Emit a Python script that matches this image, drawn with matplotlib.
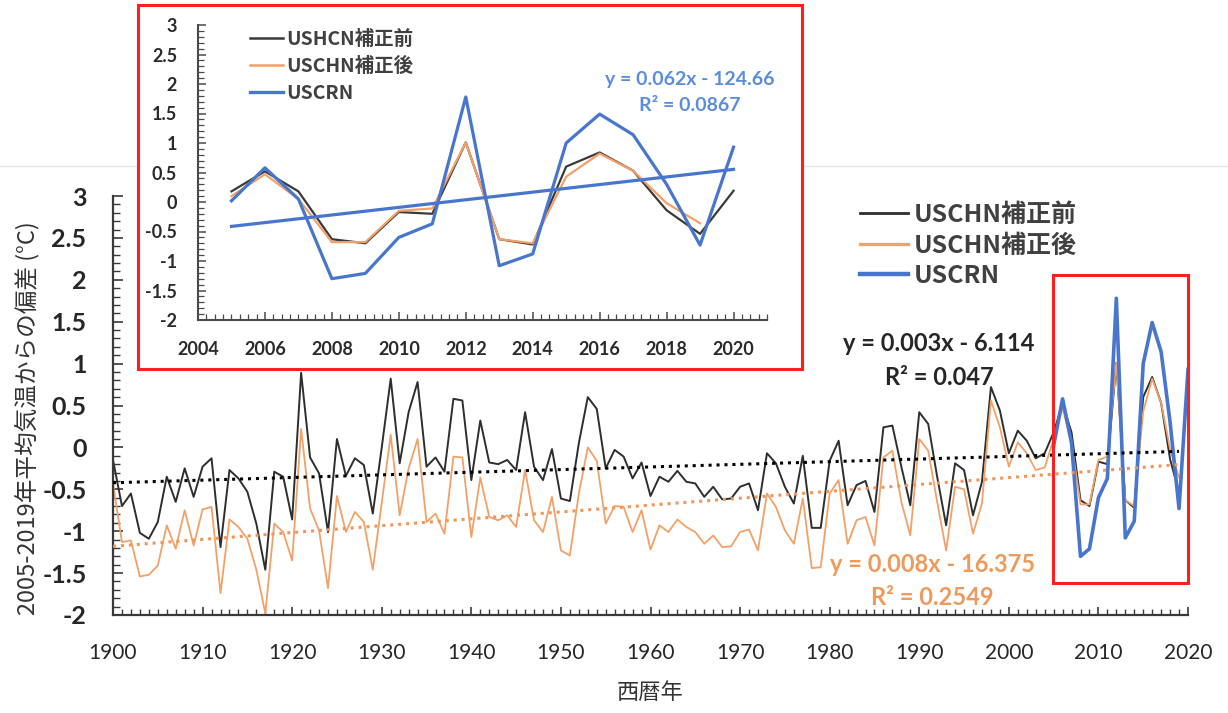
import numpy as np
import matplotlib
matplotlib.use('Agg')
import matplotlib.pyplot as plt
from matplotlib.ticker import MultipleLocator, FuncFormatter
from matplotlib.lines import Line2D

plt.rcParams['font.family'] = ['Lato', 'Noto Sans CJK JP', 'DejaVu Sans']
plt.rcParams['axes.unicode_minus'] = False

# --- data ---
years = np.arange(1900, 2020)
hcn_raw = [-0.15, -0.70, -0.55, -1.02, -1.09, -0.89, -0.35, -0.65, -0.25, -0.59,
           -0.23, -0.13, -1.19, -0.27, -0.37, -0.53, -0.91, -1.46, -0.29, -0.35,
           -0.86, 0.89, -0.12, -0.31, -1.01, 0.10, -0.34, -0.13, -0.21, -0.79,
           0.00, 0.82, -0.19, 0.42, 0.78, -0.23, -0.12, -0.29, 0.58, 0.56,
           -0.39, 0.32, -0.18, -0.20, -0.15, -0.27, 0.42, -0.23, -0.39, -0.02,
           -0.61, -0.64, 0.05, 0.60, 0.46, -0.25, -0.03, -0.11, -0.37, -0.18,
           -0.58, -0.35, -0.41, -0.28, -0.41, -0.43, -0.59, -0.47, -0.62, -0.61,
           -0.47, -0.43, -0.75, -0.07, -0.19, -0.47, -0.67, -0.10, -0.96, -0.96,
           -0.16, 0.08, -0.69, -0.45, -0.40, -0.77, 0.24, 0.26, -0.23, -0.69,
           0.42, 0.28, -0.35, -0.93, -0.19, -0.27, -0.81, -0.41, 0.72, 0.44,
           -0.07, 0.20, 0.08, -0.13, -0.07, 0.18, 0.52, 0.18, -0.63, -0.70,
           -0.17, -0.20, 1.01, -0.63, -0.72, 0.60, 0.84, 0.53, -0.14, -0.54]
hcn_adj = [-0.43, -1.13, -1.11, -1.54, -1.52, -1.41, -0.93, -1.21, -0.75, -1.17,
           -0.74, -0.71, -1.74, -0.86, -0.95, -1.09, -1.46, -1.98, -0.91, -1.01,
           -1.35, 0.22, -0.73, -0.99, -1.68, -0.58, -1.01, -0.77, -0.89, -1.46,
           -0.66, 0.15, -0.81, -0.25, 0.10, -0.89, -0.79, -1.03, -0.11, -0.12,
           -1.07, -0.36, -0.83, -0.87, -0.81, -0.95, -0.27, -0.87, -1.01, -0.59,
           -1.23, -1.29, -0.55, 0.00, -0.16, -0.91, -0.70, -0.71, -1.01, -0.75,
           -1.22, -0.93, -1.01, -0.86, -0.95, -1.01, -1.15, -1.05, -1.19, -1.18,
           -1.01, -0.98, -1.23, -0.55, -0.71, -0.99, -1.15, -0.61, -1.44, -1.43,
           -0.55, -0.39, -1.15, -0.87, -0.83, -1.17, -0.12, -0.04, -0.65, -1.05,
           0.10, -0.04, -0.65, -1.23, -0.47, -0.50, -1.03, -0.67, 0.56, 0.24,
           -0.23, 0.06, -0.07, -0.27, -0.24, 0.10, 0.47, 0.05, -0.68, -0.68,
           -0.15, -0.11, 1.01, -0.63, -0.70, 0.43, 0.82, 0.53, -0.02, -0.36]
crn_years = np.arange(2005, 2021)
crn = [0.02, 0.58, 0.05, -1.30, -1.21, -0.60, -0.37, 1.78,
       -1.08, -0.88, 1.00, 1.49, 1.14, 0.30, -0.73, 0.93]
raw_2020 = 0.19  # 補正前 2020, only in the inset

main_labels = ['USCHN補正前', 'USCHN補正後', 'USCRN']
inset_labels = ['USHCN補正前', 'USCHN補正後', 'USCRN']

c_raw = '#2e2e2e'
c_adj = '#F2A168'
c_crn = '#4876CC'
c_red = '#FF1F1F'
cjk = ['Noto Sans CJK JP', 'DejaVu Sans']

W, H = 1228, 713
fig = plt.figure(figsize=(W / 100, H / 100), dpi=100)
fig.add_artist(Line2D([0, 1], [1 - 166 / H] * 2, transform=fig.transFigure,
                      color='#e6e6e6', lw=1, zorder=0))

fmt = FuncFormatter(lambda v, p: f'{round(v, 1) + 0:g}')

# --- main chart ---
ax = fig.add_axes([113 / W, 1 - 615 / H, (1188 - 113) / W, (615 - 196) / H], zorder=1)
ax.patch.set_alpha(0)
ax.plot(years, hcn_raw, color=c_raw, lw=1.4, zorder=2)
ax.plot(years, hcn_adj, color=c_adj, lw=1.3, zorder=2)
ax.plot(crn_years, crn, color=c_crn, lw=2.6, zorder=3)

yrs = np.asarray(years, dtype=float)
k1, b1 = np.polyfit(yrs, hcn_raw, 1)
k2, b2 = np.polyfit(yrs, hcn_adj, 1)
ax.plot(yrs, k1 * yrs + b1, color='black', lw=2.2, ls=(0, (1, 1.6)), zorder=4)
ax.plot(yrs, k2 * yrs + b2, color='#F0965A', lw=2.2, ls=(0, (1, 1.6)), zorder=4)

# red highlight around the USCRN period
ax.add_patch(plt.Rectangle((crn_years[0] - 0.1, min(crn) - 0.32),
                           crn_years[-1] - crn_years[0] + 0.1,
                           max(crn) - min(crn) + 0.6,
                           fill=False, ec=c_red, lw=2.2, zorder=5, clip_on=False))

ax.set_xlim(1900, 2020)
ax.set_ylim(-2, 3)
ax.set_yticks(np.arange(-2, 3.01, 0.5))
ax.yaxis.set_major_formatter(fmt)
ax.yaxis.set_minor_locator(MultipleLocator(0.1))
ax.set_xticks(np.arange(1900, 2021, 10))
ax.xaxis.set_minor_locator(MultipleLocator(1))
for s in ['top', 'right']:
    ax.spines[s].set_visible(False)
for s in ['left', 'bottom']:
    ax.spines[s].set_color('#3a3a3a')
    ax.spines[s].set_linewidth(1.6)
ax.tick_params(which='both', direction='in', color='#3a3a3a', labelcolor='#262626')
ax.tick_params(axis='y', which='major', length=7, width=1.2, pad=19, labelsize=18)
ax.tick_params(axis='y', which='minor', length=5, width=1.0)
ax.tick_params(axis='x', which='major', length=6, width=1.2, pad=20, labelsize=15)
ax.tick_params(axis='x', which='minor', length=4, width=1.0)
for lab in ax.get_yticklabels():
    lab.set_fontweight('bold')

ax.set_xlabel('西暦年', fontsize=16, family=cjk, color='#333333', labelpad=13)
ax.set_ylabel('2005-2019年平均気温からの偏差 (°C)', fontsize=17, family=cjk,
              color='#333333')
ax.yaxis.set_label_coords(-0.068, 0.47)

ax.text(1992.2, 1.24, 'y = 0.003x - 6.114', ha='center', va='center',
        fontsize=17, weight='bold', color='#262626')
ax.text(1992.2, 0.83, 'R² = 0.047', ha='center', va='center',
        fontsize=17, weight='bold', color='#262626')
ax.text(1991.5, -1.40, 'y = 0.008x - 16.375', ha='center', va='center',
        fontsize=17, weight='bold', color='#EE9A5C')
ax.text(1991.5, -1.79, 'R² = 0.2549', ha='center', va='center',
        fontsize=17, weight='bold', color='#EE9A5C')

h_main = [Line2D([], [], color=c_raw, lw=2.0),
          Line2D([], [], color=c_adj, lw=2.4),
          Line2D([], [], color=c_crn, lw=3.2)]
leg = ax.legend(h_main, main_labels, loc='upper left',
                bbox_to_anchor=(860 / W, 1 - 203 / H), bbox_transform=fig.transFigure,
                frameon=False, prop={'family': cjk, 'size': 18, 'weight': 'bold'},
                handlelength=1.9, handletextpad=0.25, labelspacing=0.26,
                borderpad=0, borderaxespad=0)
for t in leg.get_texts():
    t.set_color('#404040')

# --- inset frame ---
box = fig.add_axes([138 / W, 1 - 369 / H, (802 - 138) / W, (369 - 5) / H], zorder=2)
box.set_xticks([])
box.set_yticks([])
for s in box.spines.values():
    s.set_color(c_red)
    s.set_linewidth(2.2)

# --- inset chart ---
ins = fig.add_axes([198 / W, 1 - 320 / H, (767 - 198) / W, (320 - 25) / H], zorder=3)
ins.patch.set_alpha(0)
ins.plot(crn_years, list(hcn_raw[105:]) + [raw_2020], color='#3a3a3a', lw=1.6)
ins.plot(years[105:], hcn_adj[105:], color=c_adj, lw=1.6)
ins.plot(crn_years, crn, color=c_crn, lw=2.3)
cy = np.asarray(crn_years, dtype=float)
k3, b3 = np.polyfit(cy, crn, 1)
ins.plot(cy, k3 * cy + b3, color=c_crn, lw=2.3)

ins.set_xlim(2004, 2021)
ins.set_ylim(-2, 3)
ins.set_yticks(np.arange(-2, 3.01, 0.5))
ins.yaxis.set_major_formatter(fmt)
ins.yaxis.set_minor_locator(MultipleLocator(0.1))
ins.set_xticks(np.arange(2004, 2021, 2))
ins.xaxis.set_minor_locator(MultipleLocator(0.25))
for s in ['top', 'right']:
    ins.spines[s].set_visible(False)
for s in ['left', 'bottom']:
    ins.spines[s].set_color('#4a4a4a')
    ins.spines[s].set_linewidth(1.5)
ins.tick_params(which='both', direction='in', color='#4a4a4a', labelcolor='#2a2a2a')
ins.tick_params(axis='y', which='major', length=6, width=1.1, pad=15, labelsize=13)
ins.tick_params(axis='y', which='minor', length=4, width=0.9)
ins.tick_params(axis='x', which='major', length=6, width=1.1, pad=15, labelsize=13)
ins.tick_params(axis='x', which='minor', length=4, width=0.9)
for lab in ins.get_yticklabels() + ins.get_xticklabels():
    lab.set_fontweight('bold')

ins.text(2018.7, 2.07, 'y = 0.062x - 124.66', ha='center', va='center',
         fontsize=14, weight='bold', color='#5B8DDB')
ins.text(2018.7, 1.64, 'R² = 0.0867', ha='center', va='center',
         fontsize=14, weight='bold', color='#5B8DDB')

h_ins = [Line2D([], [], color='#3a3a3a', lw=1.8),
         Line2D([], [], color=c_adj, lw=1.8),
         Line2D([], [], color=c_crn, lw=2.4)]
leg2 = ins.legend(h_ins, inset_labels, loc='upper left',
                  bbox_to_anchor=(250 / W, 1 - 30 / H), bbox_transform=fig.transFigure,
                  frameon=False, prop={'family': cjk, 'size': 14, 'weight': 'bold'},
                  handlelength=1.7, handletextpad=0.15, labelspacing=0.4,
                  borderpad=0, borderaxespad=0)
for t in leg2.get_texts():
    t.set_color('#404040')

fig.savefig('out.png', dpi=100)
